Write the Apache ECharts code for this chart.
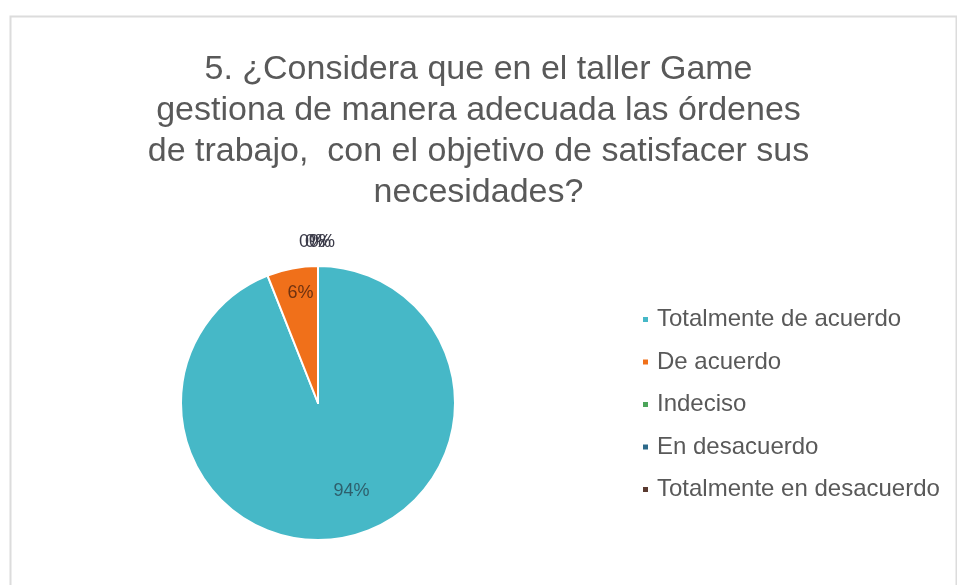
<!DOCTYPE html>
<html>
<head>
<meta charset="utf-8">
<script src="https://cdn.jsdelivr.net/npm/echarts@6/dist/echarts.min.js"></script>
<style>
  html, body { margin: 0; padding: 0; background: #ffffff; }
  #chart { width: 957px; height: 585px; }
</style>
</head>
<body>
<div id="chart"></div>
<script>
// Survey answers for question 5 (share of respondents, %)
const categories = [
  'Totalmente de acuerdo',
  'De acuerdo',
  'Indeciso',
  'En desacuerdo',
  'Totalmente en desacuerdo'
];
const percentages = [94, 6, 0, 0, 0];
const sliceColors = ['#46B8C7', '#F0701A', '#4CA55A', '#2D6A8A', '#5A3A30'];
const labelColors = ['#2E5F6C', '#6E3210', '#3A3A48', '#3A3A48', '#3A3A48'];

const titleText = '5. ¿Considera que en el taller Game\n' +
  'gestiona de manera adecuada las órdenes\n' +
  'de trabajo,  con el objetivo de satisfacer sus\n' +
  'necesidades?';

// label nudges (px) so the percentages sit where the original layout put them
const labelShift = [
  { dx: 20, dy: 18 },
  { dx: -4, dy: -40 },
  { dx: 12, dy: -20 },
  { dx: 18, dy: -20 },
  { dx: 22, dy: -20 }
];

const chart = echarts.init(document.getElementById('chart'), null, { renderer: 'canvas' });

const seriesData = categories.map((name, i) => {
  const item = {
    name: name,
    value: percentages[i],
    itemStyle: { color: sliceColors[i] },
    label: { color: labelColors[i] }
  };
  if (percentages[i] === 0) {
    item.label.position = 'outside';
  }
  return item;
});

chart.setOption({
  animation: false,
  backgroundColor: '#ffffff',
  graphic: [{
    type: 'rect',
    left: 8,
    top: 14,
    shape: { width: 946, height: 580 },
    style: { fill: 'none', stroke: '#DCDCDC', lineWidth: 2 },
    z: -1
  }],
  title: {
    text: titleText,
    left: 'center',
    top: 44,
    textStyle: {
      fontFamily: 'Liberation Sans, Arial, sans-serif',
      fontSize: 34,
      fontWeight: 'normal',
      color: '#595959',
      lineHeight: 41
    }
  },
  legend: {
    orient: 'vertical',
    left: 636,
    top: 302,
    itemGap: 17.5,
    itemWidth: 7,
    itemHeight: 7,
    icon: 'rect',
    selectedMode: false,
    textStyle: {
      fontFamily: 'Liberation Sans, Arial, sans-serif',
      fontSize: 24,
      color: '#595959',
      lineHeight: 25,
      padding: [0, 0, 0, 3]
    },
    data: categories
  },
  series: [{
    type: 'pie',
    center: [318, 403],
    radius: [0, 137],
    startAngle: 90,
    clockwise: true,
    avoidLabelOverlap: false,
    minShowLabelAngle: 0,
    stillShowZeroSum: true,
    itemStyle: { borderColor: '#ffffff', borderWidth: 2 },
    label: {
      show: true,
      position: 'inside',
      formatter: '{d}%',
      fontFamily: 'Liberation Sans, Arial, sans-serif',
      fontSize: 18
    },
    labelLine: { show: false, length: 4, length2: 0 },
    labelLayout: function (params) {
      const s = labelShift[params.dataIndex];
      return { dx: s.dx, dy: s.dy };
    },
    emphasis: { disabled: true },
    data: seriesData
  }]
});
</script>
</body>
</html>
